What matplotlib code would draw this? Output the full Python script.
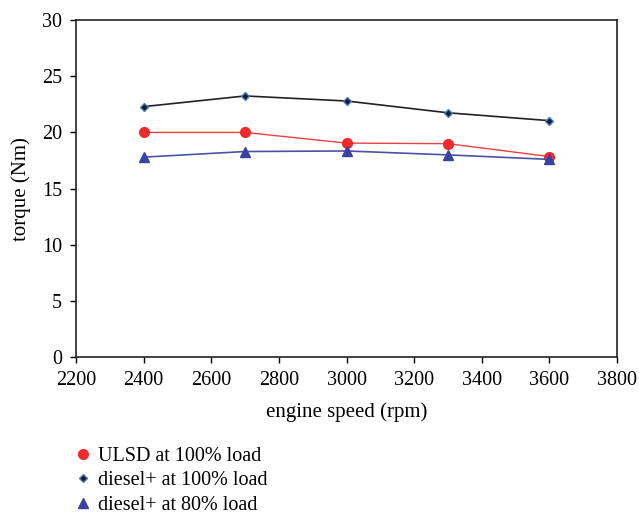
import matplotlib
matplotlib.use("Agg")
import matplotlib.pyplot as plt

plt.rcParams['font.family'] = ['Liberation Serif', 'DejaVu Serif']

# engine speed (rpm)
speed = [2400, 2700, 3000, 3300, 3600]
# torque (Nm)
ulsd_100 = [20.0, 20.0, 19.05, 19.0, 17.85]
dplus_100 = [22.3, 23.25, 22.8, 21.75, 21.05]
dplus_80 = [17.8, 18.3, 18.35, 18.0, 17.6]

fig = plt.figure(figsize=(6.39, 5.17), dpi=100)
ax = fig.add_axes([0.119, 0.3095, 0.8466, 0.6515])

l1, = ax.plot(speed, ulsd_100, color='#f04040', lw=1.0, marker='o', ms=7,
              mfc='#ee2a2a', mec='#ee2a2a', label='ULSD at 100% load')
l2, = ax.plot(speed, dplus_100, color='#222222', lw=1.2, marker='D', ms=4.5,
              mfc='#1a1a2a', mec='#4a7fc0', mew=1.0, label='diesel+ at 100% load')
l3, = ax.plot(speed, dplus_80, color='#4a52a8', lw=1.2, marker='^', ms=6.5,
              mfc='#3a43a0', mec='#3a43a0', label='diesel+ at 80% load')

ax.set_xlim(2200, 3800)
ax.set_ylim(0, 30)
ax.set_xticks(range(2200, 3801, 200))
ax.set_yticks(range(0, 31, 5))
ax.tick_params(labelsize=14.5, direction='out', length=4, width=1, pad=6)
for s in ax.spines.values():
    s.set_linewidth(1.2)
    s.set_color('#222222')

ax.set_xlabel('engine speed (rpm)', fontsize=15, labelpad=9)
ax.set_ylabel('torque (Nm)', fontsize=15, labelpad=8)

fig.legend(handles=[l1, l2, l3], loc='upper left', bbox_to_anchor=(0.117, 0.152),
           frameon=False, fontsize=14.5, handlelength=0, handletextpad=0.75,
           labelspacing=0.28, borderaxespad=0)

fig.savefig('out.png', dpi=100)
